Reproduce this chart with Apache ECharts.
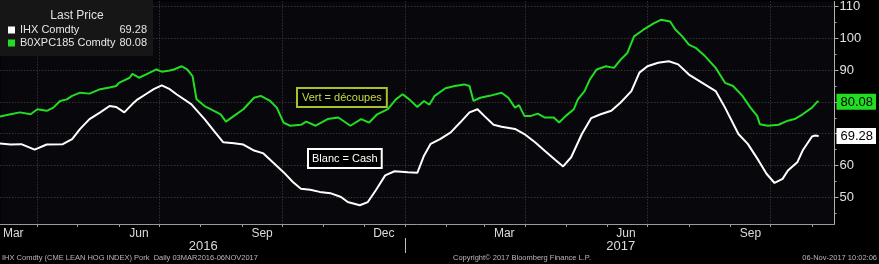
<!DOCTYPE html>
<html><head><meta charset="utf-8">
<script src="https://cdn.jsdelivr.net/npm/echarts@6/dist/echarts.min.js"></script>
<style>html,body{margin:0;padding:0;background:#000;}#c{width:879px;height:264px;}</style>
</head><body><div id="c"></div>
<script>
const ihxName = 'IHX Comdty';
const boxName = 'B0XPC185 Comdty';
const ihxDates = ['2016-03-03','2016-03-12','2016-03-20','2016-03-30','2016-04-08','2016-04-20','2016-04-27','2016-05-03','2016-05-10','2016-05-18','2016-05-25','2016-05-30','2016-06-05','2016-06-11','2016-06-15','2016-06-21','2016-06-27','2016-07-03','2016-07-09','2016-07-14','2016-07-25','2016-08-04','2016-08-11','2016-08-18','2016-08-26','2016-09-02','2016-09-10','2016-09-17','2016-09-24','2016-10-02','2016-10-09','2016-10-15','2016-10-22','2016-10-29','2016-11-06','2016-11-14','2016-11-19','2016-11-28','2016-12-04','2016-12-10','2016-12-17','2016-12-24','2017-01-03','2017-01-10','2017-01-15','2017-01-20','2017-01-27','2017-02-04','2017-02-11','2017-02-18','2017-02-24','2017-03-01','2017-03-08','2017-03-14','2017-03-24','2017-03-31','2017-04-08','2017-04-15','2017-04-23','2017-04-29','2017-05-05','2017-05-13','2017-05-20','2017-05-27','2017-06-04','2017-06-11','2017-06-19','2017-06-25','2017-07-01','2017-07-09','2017-07-17','2017-07-24','2017-08-01','2017-08-11','2017-08-21','2017-08-28','2017-09-07','2017-09-14','2017-09-22','2017-09-28','2017-10-04','2017-10-10','2017-10-14','2017-10-21','2017-10-25','2017-11-01','2017-11-03','2017-11-06'];
const ihxValues = [67.0,66.6,66.7,65.0,66.6,66.7,68.3,71.5,74.6,76.7,78.7,78.4,76.7,79.3,80.8,82.4,84.0,85.2,84.0,82.4,79.3,74.6,70.9,67.3,67.0,66.6,64.7,63.8,61.0,57.9,54.8,52.7,52.4,51.7,51.3,50.1,48.5,47.5,48.5,52.2,56.9,58.2,57.9,57.7,63.1,66.8,68.3,70.4,73.5,76.7,77.7,75.6,72.8,72.2,71.5,69.9,67.3,64.7,61.8,59.7,62.6,69.9,74.9,76.1,77.2,79.8,83.4,89.2,91.2,92.3,92.8,91.8,88.6,86.0,83.4,78.2,69.9,66.8,61.6,57.4,54.5,55.8,58.4,61.0,64.7,69.1,69.4,69.28];
const boxDates = ['2016-03-03','2016-03-12','2016-03-19','2016-03-27','2016-04-01','2016-04-08','2016-04-13','2016-04-18','2016-04-23','2016-04-27','2016-05-03','2016-05-10','2016-05-18','2016-05-25','2016-05-30','2016-06-01','2016-06-09','2016-06-11','2016-06-16','2016-06-21','2016-06-29','2016-07-03','2016-07-09','2016-07-12','2016-07-18','2016-07-22','2016-07-26','2016-07-29','2016-08-04','2016-08-11','2016-08-16','2016-08-20','2016-08-26','2016-09-02','2016-09-10','2016-09-15','2016-09-22','2016-09-27','2016-10-02','2016-10-07','2016-10-15','2016-10-19','2016-10-26','2016-11-04','2016-11-12','2016-11-21','2016-11-29','2016-12-05','2016-12-11','2016-12-19','2016-12-25','2016-12-30','2017-01-04','2017-01-10','2017-01-15','2017-01-19','2017-01-23','2017-01-31','2017-02-07','2017-02-14','2017-02-18','2017-02-21','2017-02-26','2017-03-05','2017-03-14','2017-03-19','2017-03-24','2017-03-27','2017-03-31','2017-04-05','2017-04-10','2017-04-15','2017-04-22','2017-04-26','2017-05-01','2017-05-07','2017-05-10','2017-05-15','2017-05-19','2017-05-24','2017-05-31','2017-06-06','2017-06-11','2017-06-16','2017-06-21','2017-06-28','2017-07-06','2017-07-11','2017-07-18','2017-07-22','2017-07-27','2017-08-01','2017-08-06','2017-08-13','2017-08-21','2017-08-28','2017-09-03','2017-09-10','2017-09-16','2017-09-21','2017-09-23','2017-09-29','2017-10-07','2017-10-14','2017-10-19','2017-10-25','2017-11-01','2017-11-05','2017-11-06'];
const boxValues = [75.3,76.1,76.7,76.1,77.7,77.2,78.2,80.3,80.8,81.9,82.9,82.6,84.0,84.5,85.0,86.0,87.6,88.8,87.6,88.6,90.2,89.5,89.9,90.2,91.2,90.2,88.1,80.8,78.7,77.2,76.1,73.8,75.6,77.7,81.3,81.9,80.3,78.2,73.5,72.5,72.8,73.8,72.5,74.6,75.1,72.5,74.6,73.5,76.1,77.7,80.8,82.4,80.8,78.4,80.3,79.1,81.9,84.3,85.0,85.5,85.0,80.3,81.3,81.9,82.9,81.3,78.2,79.0,75.6,75.6,76.3,75.1,75.1,73.5,75.6,77.7,80.8,83.4,87.1,90.2,91.2,90.7,93.3,95.4,100.6,102.7,104.8,105.8,105.3,102.7,100.6,98.0,97.0,94.4,90.7,86.0,85.0,81.9,78.2,75.6,73.0,72.5,72.8,74.1,74.6,76.1,78.2,80.1,80.08];

const monthTicks = ['2016-04-01','2016-05-01','2016-06-01','2016-07-01','2016-08-01','2016-09-01','2016-10-01','2016-11-01','2016-12-01','2017-01-01','2017-02-01','2017-03-01','2017-04-01','2017-05-01','2017-06-01','2017-07-01','2017-08-01','2017-09-01','2017-10-01','2017-11-01'];
const quarterLines = ['2016-04-01','2016-07-01','2016-10-01','2017-01-01','2017-04-01','2017-07-01','2017-10-01'];
const monthLabelDates = ['2016-03-14','2016-06-16','2016-09-16','2016-12-16','2017-03-16','2017-06-15','2017-09-16'];
const monthLabels = ['Mar','Jun','Sep','Dec','Mar','Jun','Sep'];
const yearLabelDates = ['2016-08-03','2017-06-11'];
const yearLabels = ['2016','2017'];
const yearBreaks = ['2017-01-01'];
const yTicks = [50,60,70,80,90,100,110];
const yLabels = [50,60,90,100,110];
const yMinorTicks = [45,55,65,75,85,95,105];
const lastIhx = 69.28;
const lastBox = 80.08;
const xMin = '2016-03-04T08:00:00';
const xMax = '2017-11-17T19:00:00';
const yMin = 41.6, yMax = 111.6;

const ts = s => +new Date(s.length === 10 ? s + 'T00:00:00' : s);
const FONT = 'Liberation Sans';
const GREEN = '#22dd22';

function labelFor(dates, labels) {
  const t = dates.map(ts);
  return v => { const i = t.findIndex(x => Math.abs(x - v) < 43200000); return i >= 0 ? labels[i] : ''; };
}

const chart = echarts.init(document.getElementById('c'));
chart.setOption({
  animation: false,
  backgroundColor: '#000',
  grid: { left: 0, right: 39, top: 0, bottom: 40, show: true, backgroundColor: '#07070c', borderWidth: 0 },
  legend: {
    orient: 'vertical', left: 0, top: 0, padding: [24, 6, 7, 8],
    backgroundColor: '#161616', itemWidth: 7, itemHeight: 7, itemGap: 1, icon: 'rect',
    data: [ihxName, boxName],
    formatter: name => '{n|' + name + '}{v|' + (name === ihxName ? lastIhx : lastBox).toFixed(2) + '}',
    textStyle: { color: '#e6e6e6', fontFamily: FONT, fontSize: 11, lineHeight: 12,
      rich: { n: { width: 97, fontFamily: FONT, fontSize: 11, color: '#e6e6e6' }, v: { width: 30, align: 'right', fontFamily: FONT, fontSize: 11, color: '#e6e6e6' } } }
  },
  xAxis: [
    { type: 'value', min: ts(xMin), max: ts(xMax), scale: true,
      axisLine: { show: true, onZero: false, lineStyle: { color: '#9a9a9a', width: 1 } },
      axisTick: { show: true, length: 3, customValues: monthTicks.map(ts), lineStyle: { color: '#9a9a9a' } },
      axisLabel: { customValues: monthLabelDates.map(ts), formatter: labelFor(monthLabelDates, monthLabels), color: '#dcdcdc', fontFamily: FONT, fontSize: 12, margin: 4, hideOverlap: false },
      splitLine: { show: false } },
    { type: 'value', min: ts(xMin), max: ts(xMax), scale: true,
      axisLine: { show: false, onZero: false }, axisLabel: { show: false },
      axisTick: { show: false, customValues: quarterLines.map(ts) },
      splitLine: { show: true, lineStyle: { color: '#4a4a4a', type: [1, 2], width: 1 } } },
    { type: 'value', min: ts(xMin), max: ts(xMax), scale: true, position: 'bottom', offset: 14,
      axisLine: { show: false, onZero: false },
      axisTick: { show: true, length: 15, customValues: yearBreaks.map(ts), lineStyle: { color: '#bdbdbd' } },
      axisLabel: { customValues: yearLabelDates.map(ts), formatter: labelFor(yearLabelDates, yearLabels), color: '#dcdcdc', fontFamily: FONT, fontSize: 13, margin: 2 },
      splitLine: { show: false } }
  ],
  yAxis: [
    { type: 'value', position: 'right', min: yMin, max: yMax,
      axisLine: { show: true, onZero: false, lineStyle: { color: '#b0b0b0' } },
      axisTick: { show: true, length: 4, customValues: yTicks, lineStyle: { color: '#b0b0b0' } },
      axisLabel: { customValues: yLabels, color: '#e0e0e0', fontFamily: FONT, fontSize: 13, margin: 5 },
      splitLine: { show: true, lineStyle: { color: '#4a4a4a', type: [1, 2], width: 1 } } },
    { type: 'value', position: 'right', min: yMin, max: yMax,
      axisLine: { show: false, onZero: false }, splitLine: { show: false },
      axisTick: { show: true, length: 2, customValues: yMinorTicks, lineStyle: { color: '#b0b0b0' } },
      axisLabel: { show: false } },
    { type: 'value', position: 'right', min: yMin, max: yMax, z: 10,
      axisLine: { show: false, onZero: false }, splitLine: { show: false }, axisTick: { show: false },
      axisLabel: { customValues: [lastIhx, lastBox], margin: 2,
        formatter: v => (Math.abs(v - lastBox) < 0.001 ? '{g|' : '{w|') + v.toFixed(2) + '}',
        rich: { g: { backgroundColor: GREEN, color: '#000', fontFamily: FONT, fontSize: 13, padding: [2, 3, 1, 4] },
                w: { backgroundColor: '#ffffff', color: '#000', fontFamily: FONT, fontSize: 13, padding: [2, 3, 1, 4] } } } }
  ],
  series: [
    { name: boxName, type: 'line', xAxisIndex: 0, yAxisIndex: 0, showSymbol: false, symbol: 'none',
      color: GREEN, lineStyle: { color: GREEN, width: 2 },
      data: boxDates.map((d, i) => [ts(d), boxValues[i]]) },
    { name: ihxName, type: 'line', xAxisIndex: 0, yAxisIndex: 0, showSymbol: false, symbol: 'none',
      color: '#ffffff', lineStyle: { color: '#ffffff', width: 2 },
      data: ihxDates.map((d, i) => [ts(d), ihxValues[i]]) }
  ],
  graphic: [
    { type: 'text', x: 77, y: 16, z: 100, style: { text: 'Last Price', fill: '#e0e0e0', font: '12px ' + FONT, textAlign: 'center', textVerticalAlign: 'middle' } },
    { type: 'text', left: 296, top: 87, z: 100, style: { text: 'Vert = découpes', fill: '#c8da48', font: '11px ' + FONT, backgroundColor: '#000', borderColor: '#a8c030', borderWidth: 2, padding: [3, 4, 3, 4] } },
    { type: 'text', left: 307, top: 148, z: 100, style: { text: 'Blanc = Cash', fill: '#ffffff', font: '11px ' + FONT, backgroundColor: '#000', borderColor: '#ffffff', borderWidth: 2, padding: [3, 3, 3, 3] } },
    { type: 'text', left: 2, top: 254, z: 100, style: { text: 'IHX Comdty (CME LEAN HOG INDEX) Pork  Daily 03MAR2016-06NOV2017', fill: '#b8b8b8', font: '7.5px ' + FONT } },
    { type: 'text', left: 453, top: 254, z: 100, style: { text: 'Copyright© 2017 Bloomberg Finance L.P.', fill: '#b8b8b8', font: '7.5px ' + FONT } },
    { type: 'text', right: 2, top: 254, z: 100, style: { text: '06-Nov-2017 10:02:06', fill: '#b8b8b8', font: '7.5px ' + FONT } }
  ]
});
</script></body></html>
